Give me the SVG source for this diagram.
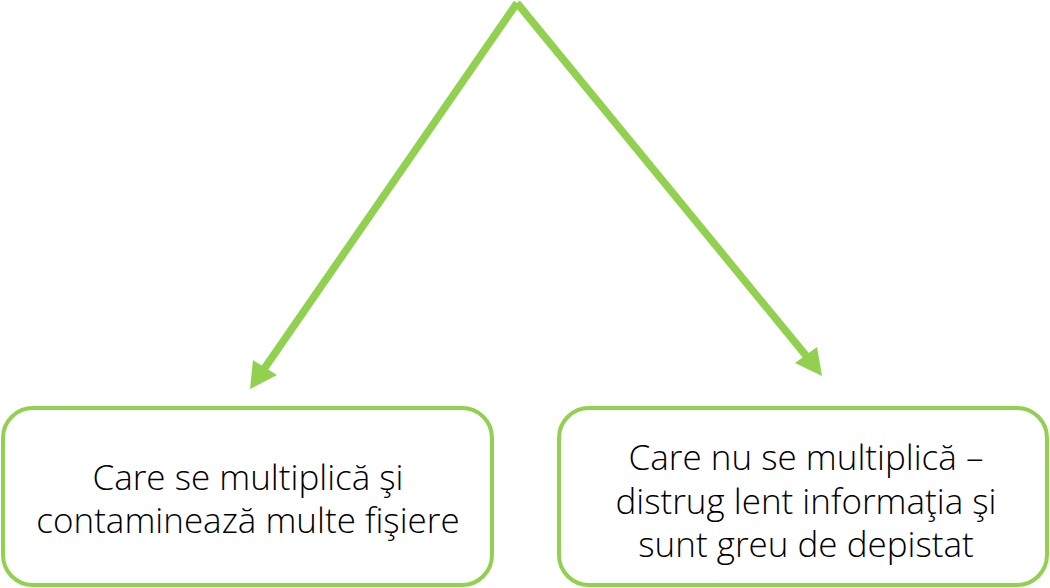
<svg xmlns="http://www.w3.org/2000/svg" width="1050" height="588" viewBox="0 0 1050 588">
<style>
.box{fill:#FFFFFF;stroke:#92D050;stroke-width:4}
.lbl{font-family:"Open Sans","Noto Sans","Liberation Sans",sans-serif;font-weight:300;font-size:35px;fill:#000000;text-anchor:middle}
.conn{stroke:#92D050;stroke-width:7.5;stroke-linecap:butt;fill:none}
.head{fill:#92D050}
</style>
<rect width="1050" height="588" fill="#FFFFFF"/>
<g id="connectors">
<line class="conn" x1="517" y1="3" x2="264" y2="369"/>
<polygon class="head" points="250,389 253,360 277,375"/>
<line class="conn" x1="517" y1="3" x2="808" y2="358"/>
<polygon class="head" points="822,376 817,347 795,363"/>
</g>
<g id="node-left">
<rect class="box" x="3" y="408" width="489" height="177" rx="30" ry="30"/>
<text class="lbl" x="248" y="490">Care se multiplică şi</text>
<text class="lbl" x="248" y="533">contaminează multe fişiere</text>
</g>
<g id="node-right">
<rect class="box" x="559" y="408" width="488" height="177" rx="30" ry="30"/>
<text class="lbl" x="806" y="470">Care nu se multiplică –</text>
<text class="lbl" x="806" y="514">distrug lent informaţia şi</text>
<text class="lbl" x="806" y="557">sunt greu de depistat</text>
</g>
</svg>
